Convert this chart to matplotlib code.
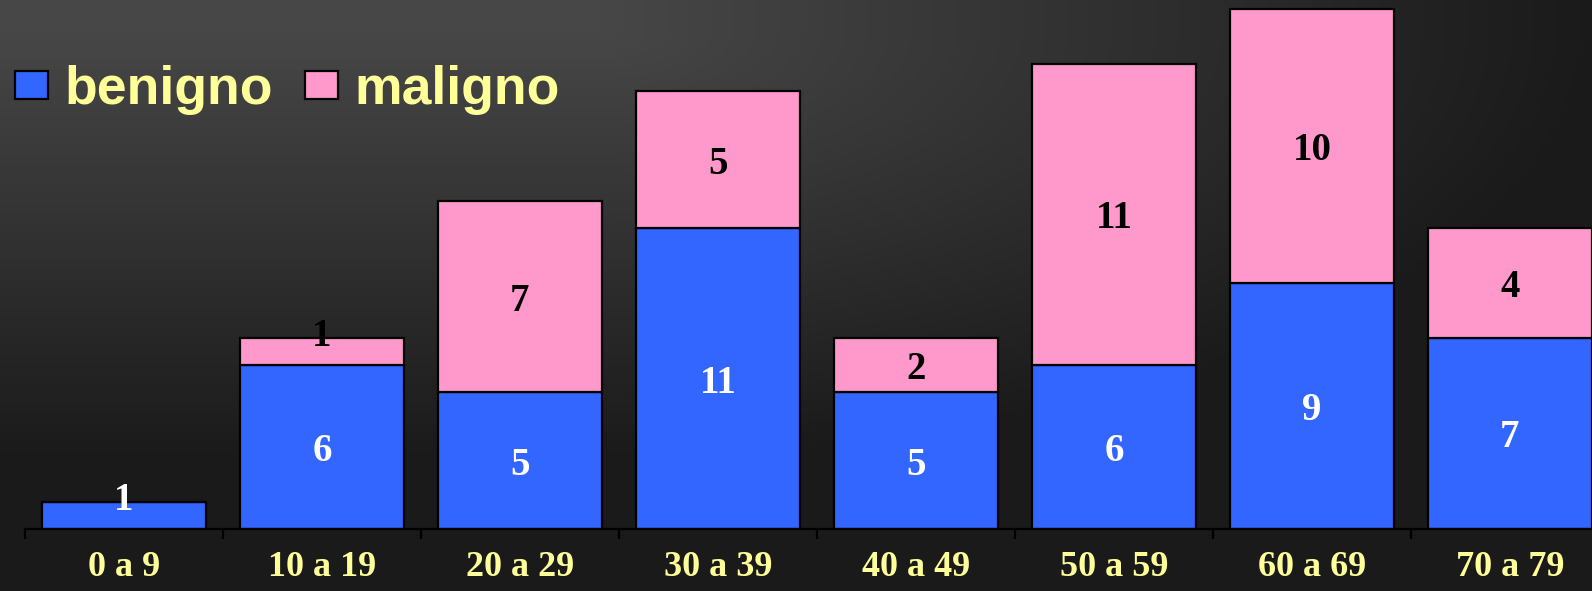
import matplotlib
matplotlib.use('Agg')
import matplotlib.pyplot as plt
import numpy as np
from matplotlib.patches import Patch

grupos = ['0 a 9', '10 a 19', '20 a 29', '30 a 39', '40 a 49', '50 a 59', '60 a 69', '70 a 79']
benigno = [1, 6, 5, 11, 5, 6, 9, 7]
maligno = [0, 1, 7, 5, 2, 11, 10, 4]

AZUL = '#3366FF'
ROSA = '#FF99CC'
AMARELO = '#FFFF99'

W, H = 1592, 591
fig = plt.figure(figsize=(W / 100, H / 100), dpi=100)

# dark gradient background: flat grey at the top-left, darker towards right and bottom
bg = fig.add_axes([0, 0, 1, 1], zorder=-1)
yy, xx = np.mgrid[0:H, 0:W]
dx = np.clip((xx - 600) / 1000.0, 0, None)
dy = np.clip((yy - 30) / 430.0, 0, None)
d = np.clip(np.sqrt(dx ** 2 + dy ** 2), 0, 1)
g = (0x47 - (0x47 - 0x1a) * d) / 255.0
bg.imshow(np.dstack([g, g, g]), aspect='auto', extent=[0, W, H, 0])
bg.axis('off')

ax = fig.add_axes([25 / W, 62 / H, 1584 / W, 529 / H])
ax.set_facecolor('none')
x = np.arange(len(grupos))
ben = np.array(benigno)
mal = np.array(maligno)

ax.bar(x, ben, width=0.83, color=AZUL, edgecolor='black', linewidth=1.6, label='benigno')
ax.bar(x, mal, width=0.83, bottom=ben, color=ROSA, edgecolor='black', linewidth=1.6, label='maligno')

lbl = dict(ha='center', va='center_baseline', fontsize=28, fontweight='bold', family='Liberation Serif')
for i in range(len(grupos)):
    if ben[i] > 0:
        off = 0.7 if ben[i] == 1 else 0
        ax.text(x[i], ben[i] / 2 + off, str(ben[i]), color='white', **lbl)
    if mal[i] > 0:
        off = 0.7 if mal[i] == 1 else 0
        ax.text(x[i], ben[i] + mal[i] / 2 + off, str(mal[i]), color='black', **lbl)

ax.set_xlim(-0.5, len(grupos) - 0.5)
ax.set_ylim(0, 19.34)
for s in ['left', 'right', 'top']:
    ax.spines[s].set_visible(False)
ax.spines['bottom'].set_color('black')
ax.spines['bottom'].set_linewidth(1.6)
ax.set_yticks([])
ax.set_xticks(x)
ax.set_xticklabels(grupos, fontsize=26, fontweight='bold', family='Liberation Serif', color=AMARELO)
ax.set_xticks(np.arange(len(grupos) + 1) - 0.5, minor=True)
ax.tick_params(axis='x', which='major', length=0, pad=16)
ax.tick_params(axis='x', which='minor', length=7, width=1.6, color='black', direction='out')

handles = [Patch(facecolor=AZUL, edgecolor='black', linewidth=1.6),
           Patch(facecolor=ROSA, edgecolor='black', linewidth=1.6)]
leg = fig.legend(handles, ['benigno', 'maligno'], loc='center left',
                 bbox_to_anchor=(15 / W, 1 - 90 / H), ncol=2, frameon=False,
                 borderpad=0, borderaxespad=0, handlelength=0.62, handleheight=0.44,
                 handletextpad=0.3, columnspacing=0.6,
                 prop={'family': 'Liberation Sans', 'weight': 'bold', 'size': 38.5})
for t in leg.get_texts():
    t.set_color(AMARELO)

fig.savefig('out.png', dpi=100)
